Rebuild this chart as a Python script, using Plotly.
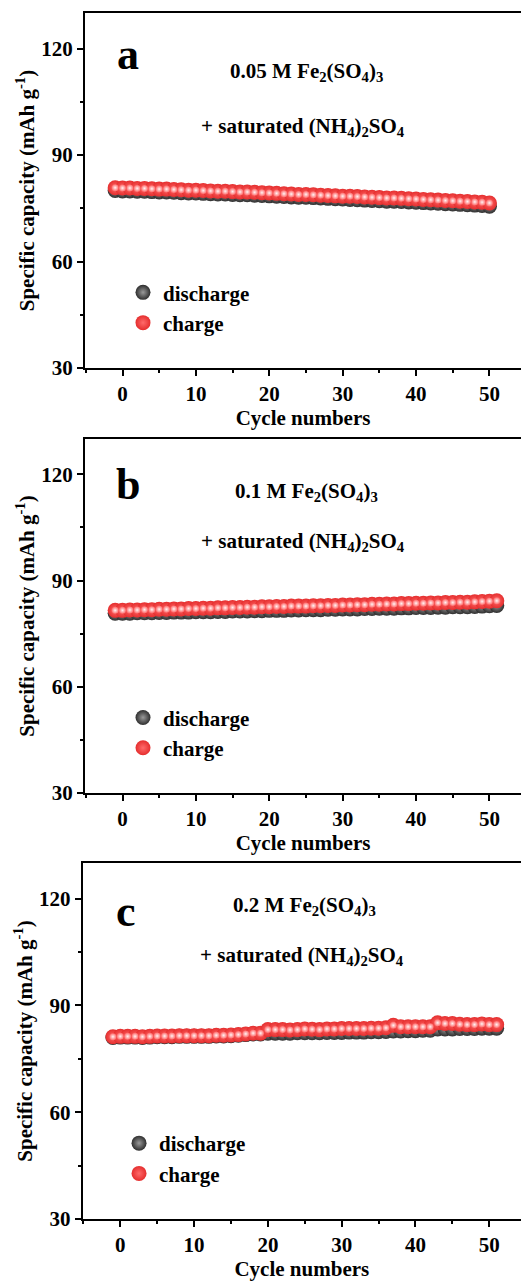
import plotly.graph_objects as go
from plotly.subplots import make_subplots

# ---------------- data ----------------
cycles_a = list(range(-1, 51))
cycles_bc = list(range(-1, 52))

charge_a = [80.8, 80.7, 80.7, 80.6, 80.6, 80.5, 80.4, 80.4, 80.3, 80.2,
            80.1, 80.1, 80.0, 79.9, 79.8, 79.8, 79.7, 79.6, 79.6, 79.5,
            79.4, 79.3, 79.2, 79.1, 79.0, 78.9, 78.9, 78.8, 78.7, 78.6,
            78.5, 78.4, 78.4, 78.3, 78.2, 78.1, 78.0, 77.9, 77.9, 77.8,
            77.7, 77.6, 77.5, 77.4, 77.3, 77.2, 77.1, 77.0, 76.9, 76.8,
            76.7, 76.5]
discharge_a = [80.0, 79.9, 79.9, 79.8, 79.8, 79.7, 79.6, 79.6, 79.5, 79.4,
               79.3, 79.3, 79.2, 79.1, 79.0, 79.0, 78.9, 78.8, 78.8, 78.7,
               78.6, 78.5, 78.4, 78.3, 78.2, 78.1, 78.1, 78.0, 77.9, 77.8,
               77.7, 77.6, 77.5, 77.4, 77.3, 77.2, 77.1, 77.0, 77.0, 76.9,
               76.8, 76.7, 76.6, 76.5, 76.4, 76.3, 76.2, 76.1, 76.0, 75.9,
               75.8, 75.6]

charge_b = [81.6, 81.6, 81.7, 81.7, 81.8, 81.8, 81.9, 81.9, 82.0, 82.0,
            82.1, 82.1, 82.2, 82.2, 82.3, 82.3, 82.4, 82.4, 82.5, 82.5,
            82.6, 82.6, 82.7, 82.7, 82.8, 82.8, 82.8, 82.9, 82.9, 83.0,
            83.0, 83.1, 83.1, 83.2, 83.2, 83.3, 83.3, 83.4, 83.4, 83.5,
            83.5, 83.6, 83.6, 83.7, 83.7, 83.8, 83.8, 83.9, 83.9, 84.0,
            84.1, 84.2, 84.3]
discharge_b = [80.8, 80.8, 80.8, 80.9, 80.9, 80.9, 81.0, 81.0, 81.1, 81.1,
               81.1, 81.2, 81.2, 81.2, 81.3, 81.3, 81.4, 81.4, 81.4, 81.5,
               81.5, 81.6, 81.6, 81.6, 81.7, 81.7, 81.8, 81.8, 81.8, 81.9,
               81.9, 82.0, 82.0, 82.0, 82.1, 82.1, 82.2, 82.2, 82.2, 82.3,
               82.3, 82.4, 82.4, 82.4, 82.5, 82.5, 82.6, 82.6, 82.6, 82.7,
               82.8, 82.9, 83.0]

charge_c = [81.2, 81.3, 81.3, 81.3, 81.2, 81.3, 81.4, 81.4, 81.4, 81.5,
            81.5, 81.5, 81.5, 81.5, 81.6, 81.6, 81.7, 81.8, 82.0, 82.2,
            82.2, 83.2, 83.2, 83.2, 83.1, 83.2, 83.4, 83.3, 83.2, 83.4,
            83.4, 83.5, 83.5, 83.5, 83.5, 83.6, 83.6, 83.7, 84.4, 84.0,
            84.0, 84.0, 84.0, 84.0, 85.1, 84.9, 84.9, 84.7, 84.6, 84.6,
            84.8, 84.6, 84.6]
discharge_c = [81.0, 81.1, 81.1, 81.1, 81.0, 81.1, 81.2, 81.2, 81.2, 81.3,
               81.3, 81.3, 81.3, 81.3, 81.4, 81.4, 81.5, 81.6, 81.8, 82.0,
               82.0, 82.2, 82.2, 82.2, 82.2, 82.3, 82.3, 82.3, 82.3, 82.4,
               82.4, 82.4, 82.5, 82.5, 82.5, 82.6, 82.6, 82.7, 82.8, 82.8,
               82.9, 82.9, 83.0, 83.0, 83.4, 83.4, 83.4, 83.5, 83.5, 83.5,
               83.6, 83.6, 83.6]

panel_letters = ["a", "b", "c"]
conc_labels = ["0.05 M Fe<sub>2</sub>(SO<sub>4</sub>)<sub>3</sub>",
               "0.1 M Fe<sub>2</sub>(SO<sub>4</sub>)<sub>3</sub>",
               "0.2 M Fe<sub>2</sub>(SO<sub>4</sub>)<sub>3</sub>"]
salt_label = "+ saturated (NH<sub>4</sub>)<sub>2</sub>SO<sub>4</sub>"
series_names = ["discharge", "charge"]
x_ticks = [0, 10, 20, 30, 40, 50]
y_ticks = [30, 60, 90, 120]

panels = [
    (cycles_a, discharge_a, charge_a),
    (cycles_bc, discharge_b, charge_b),
    (cycles_bc, discharge_c, charge_c),
]

# ---------------- style ----------------
FONT = "Liberation Serif"
RED = "#e52e2e"
RED_MID = "#ff6a6a"
RED_HI = "#fff4f4"
GRAY = "#2e2e2e"
GRAY_HI = "#9a9a9a"
MSIZE = 15

fig = make_subplots(rows=3, cols=1)

y_domains = [[0.7056, 1.0], [0.3532, 0.6468], [0.0, 0.2952]]
x_domains = [[0.007, 1.0], [0.007, 1.0], [0.0015, 1.0]]
legend_x = [0.087, 0.087, 0.083]
annot_y = [(0.882, 0.834, 0.679), (0.870, 0.850, 0.709), (0.865, 0.879, 0.739)]
legend_names = ["legend", "legend2", "legend3"]

for i, (cyc, dis, chg) in enumerate(panels):
    row = i + 1
    lg = legend_names[i]
    fig.add_trace(go.Scatter(
        x=cyc, y=dis, mode="markers", name=series_names[0], legend=lg,
        marker=dict(size=MSIZE, color=GRAY, line=dict(width=0),
                    gradient=dict(type="radial", color=GRAY_HI)),
    ), row=row, col=1)
    fig.add_trace(go.Scatter(
        x=cyc, y=chg, mode="markers", name=series_names[1], legend=lg,
        marker=dict(size=MSIZE, color=RED, line=dict(width=0),
                    gradient=dict(type="radial", color=RED_MID)),
    ), row=row, col=1)
    # specular highlight on each charge sphere
    fig.add_trace(go.Scatter(
        x=cyc, y=chg, mode="markers", showlegend=False, hoverinfo="skip",
        marker=dict(size=7, color=RED_MID, line=dict(width=0),
                    gradient=dict(type="radial", color=RED_HI)),
    ), row=row, col=1)

    xa = "xaxis" if i == 0 else f"xaxis{row}"
    ya = "yaxis" if i == 0 else f"yaxis{row}"
    fig.layout[xa].update(
        domain=x_domains[i], range=[-5.1, 54.3],
        tickvals=x_ticks, ticks="outside", ticklen=6, tickwidth=2, tickcolor="black",
        minor=dict(dtick=5, tick0=0, ticks="outside", ticklen=3, tickwidth=2, tickcolor="black"),
        showline=True, linewidth=2, linecolor="black", mirror=True,
        showgrid=False, zeroline=False,
        tickfont=dict(family=FONT, size=21, color="black", weight="bold"),
        title=dict(text="Cycle numbers", standoff=1,
                   font=dict(family=FONT, size=21, color="black", weight="bold")),
    )
    fig.layout[ya].update(
        domain=y_domains[i], range=[30, 130],
        tickvals=y_ticks, ticks="outside", ticklen=6, tickwidth=2, tickcolor="black",
        minor=dict(dtick=15, tick0=30, ticks="outside", ticklen=3, tickwidth=2, tickcolor="black"),
        showline=True, linewidth=2, linecolor="black", mirror=False,
        showgrid=False, zeroline=False,
        tickfont=dict(family=FONT, size=21, color="black", weight="bold"),
        title=dict(text="Specific capacity (mAh g<sup>-1</sup>)", standoff=1,
                   font=dict(family=FONT, size=21, color="black", weight="bold")),
    )

    xref = "x domain" if i == 0 else f"x{row} domain"
    yref = "y domain" if i == 0 else f"y{row} domain"
    ly, c1, c2 = annot_y[i]
    fig.add_annotation(x=0.099, y=ly, xref=xref, yref=yref, text=panel_letters[i],
                       showarrow=False, xanchor="center", yanchor="middle",
                       font=dict(family=FONT, size=44, color="black", weight="bold"))
    fig.add_annotation(x=0.507, y=c1, xref=xref, yref=yref, text=conc_labels[i],
                       showarrow=False, xanchor="center", yanchor="middle",
                       font=dict(family=FONT, size=21, color="black", weight="bold"))
    fig.add_annotation(x=0.5, y=c2, xref=xref, yref=yref, text=salt_label,
                       showarrow=False, xanchor="center", yanchor="middle",
                       font=dict(family=FONT, size=21, color="black", weight="bold"))

    dx0, dx1 = x_domains[i]
    dy0, dy1 = y_domains[i]
    fig.layout[lg] = dict(
        x=dx0 + legend_x[i] * (dx1 - dx0), y=dy0 + 0.17 * (dy1 - dy0),
        xref="paper", yref="paper",
        xanchor="left", yanchor="middle", bgcolor="rgba(0,0,0,0)",
        font=dict(family=FONT, size=21, color="black", weight="bold"),
        tracegroupgap=0,
    )

fig.update_layout(
    width=521, height=1286,
    margin=dict(l=82, r=0, t=13, b=67),
    paper_bgcolor="white", plot_bgcolor="white",
    showlegend=True,
)

fig.write_html("out.html",
               config={"displayModeBar": False},
               post_script="document.body.style.margin='0';document.body.style.overflow='hidden';")
